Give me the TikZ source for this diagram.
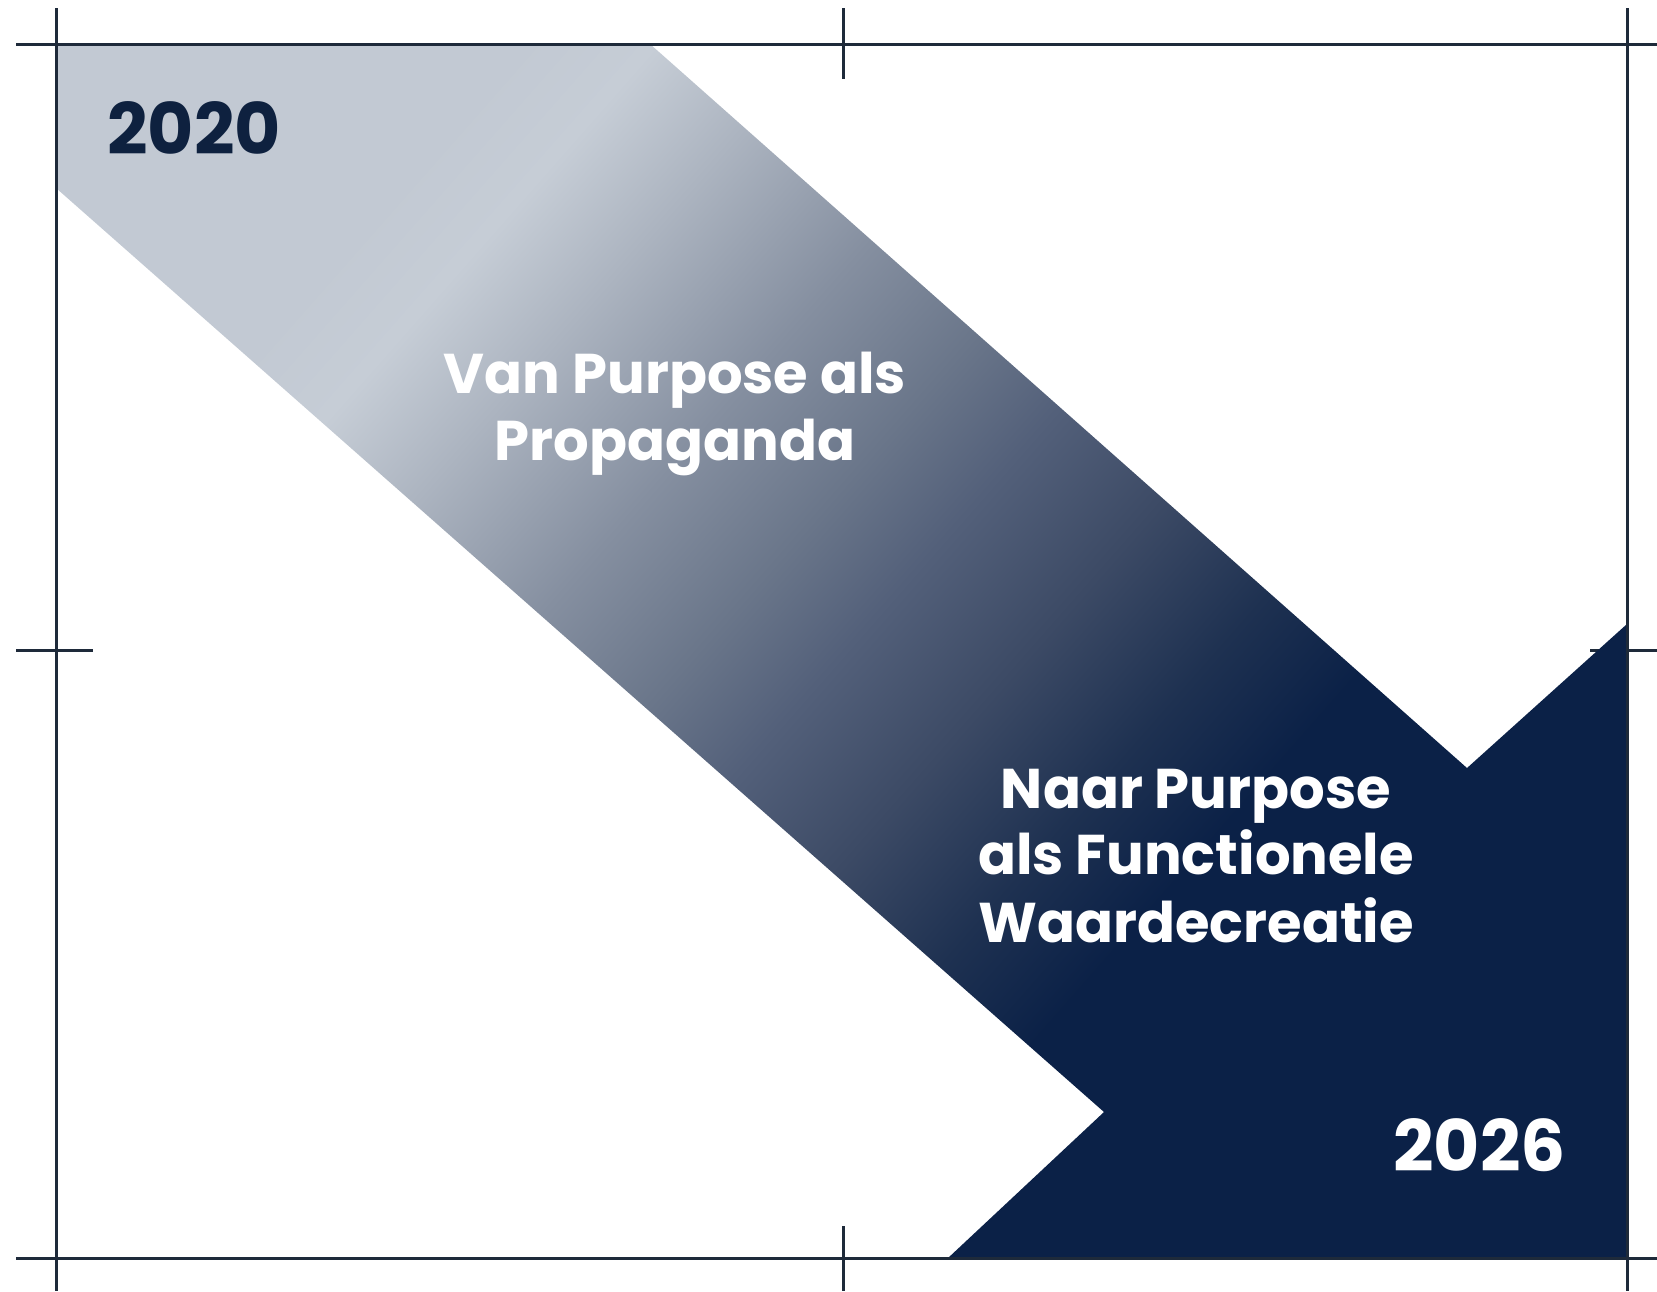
\documentclass[tikz,border=0pt]{standalone}
\usepackage{fontspec}
\setmainfont{Poppins}
\definecolor{frameline}{HTML}{1E2A3A}
\definecolor{navy}{HTML}{0B2147}
\definecolor{yeardark}{HTML}{0E213F}
\definecolor{bandA}{HTML}{C2C9D3}
\definecolor{bandB}{HTML}{C6CDD6}
\definecolor{bandC}{HTML}{ACB4C0}
\definecolor{bandD}{HTML}{858FA0}
\definecolor{bandE}{HTML}{6A768A}
\definecolor{bandF}{HTML}{53607A}
\definecolor{bandG}{HTML}{3C4A65}
\definecolor{bandH}{HTML}{1E3151}
% gradient along the band axis (position = distance along the axis)
\pgfdeclarehorizontalshading{bandshade}{1400bp}{color(0bp)=(bandA); color(420bp)=(bandA); color(520bp)=(bandB); color(640bp)=(bandC); color(810bp)=(bandD); color(950bp)=(bandE); color(1060bp)=(bandF); color(1200bp)=(bandG); color(1340bp)=(bandH); color(1460bp)=(navy); color(2100bp)=(navy)}
\begin{document}
\begin{tikzpicture}[x=1pt,y=-1pt,
  frame/.style={draw=frameline, line width=3pt},
  bandtext/.style={text=white, font=\bfseries\fontsize{56}{66}\selectfont, inner sep=0pt, anchor=base},
  yeartext/.style={font=\bfseries\fontsize{71}{80}\selectfont, inner sep=0pt}]
\useasboundingbox (0,0) rectangle (1657,1291);
\fill[white] (0,0) rectangle (1657,1291);

% right-hand tick sits under the band
\draw[frame] (1590,650) -- (1657,650);

% diagonal arrow band with gradient
\begin{scope}
  \clip (56,44) -- (650,44) -- (1467,768) -- (1627,624) -- (1627,1258)
        -- (948,1258) -- (1104,1112) -- (56,188) -- cycle;
  \node[name=bandfill, inner sep=0pt, outer sep=0pt, anchor=west, rotate=-41.36]
        at (95.8,-108.8) {\pgfuseshading{bandshade}};
\end{scope}

% frame lines and ticks
\draw[frame] (16,44) -- (1657,44);
\draw[frame] (16,1258) -- (1657,1258);
\draw[frame] (56,8) -- (56,1291);
\draw[frame] (1627,8) -- (1627,1291);
\draw[frame] (843,8) -- (843,79);
\draw[frame] (843,1226) -- (843,1291);
\draw[frame] (16,650) -- (93,650);
\draw[frame] (1627,650) -- (1657,650);

% years
\node[yeartext, text=yeardark, anchor=base west] (y2020) at (107,154) {2020};
\node[yeartext, text=white, anchor=base east] (y2026) at (1566,1171) {2026};

% labels
\node[bandtext] (van1) at (675,393) {Van Purpose als};
\node[bandtext] (van2) at (675,460) {Propaganda};
\node[bandtext] (naar1) at (1196,808) {Naar Purpose};
\node[bandtext] (naar2) at (1196,874) {als Functionele};
\node[bandtext] (naar3) at (1196,942) {Waardecreatie};
\end{tikzpicture}
\end{document}
